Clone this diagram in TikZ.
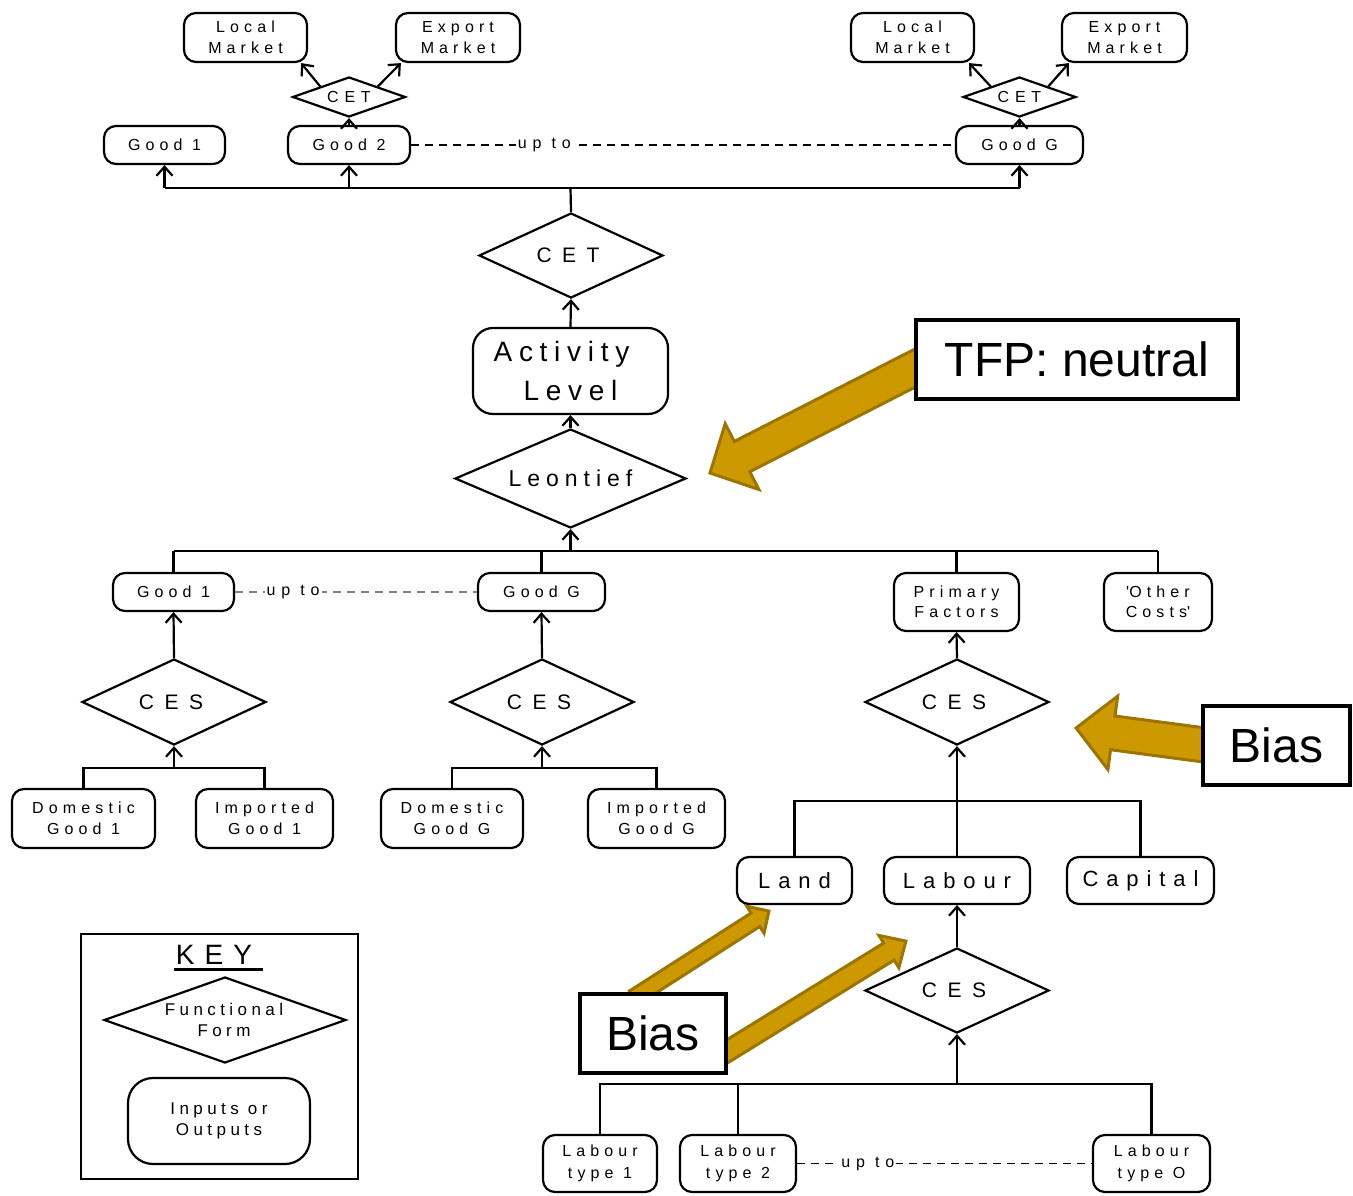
\documentclass[tikz,border=0pt]{standalone}
\usepackage{fontspec}
\setmainfont{Liberation Sans}
\newfontfamily\spfont{Liberation Sans}[LetterSpace=36]
\newfontfamily\smfont{Liberation Sans}[LetterSpace=32]
\newfontfamily\wdfont{Liberation Sans}[LetterSpace=50]
\newfontfamily\ltfont{Liberation Sans}[LetterSpace=26]
\newfontfamily\actfont{Liberation Sans}[LetterSpace=24]
\usetikzlibrary{shapes.geometric,arrows.meta,calc}
\pgfdeclarelayer{bg}
\pgfsetlayers{bg,main}
\definecolor{gold}{RGB}{204,153,0}
\definecolor{goldline}{RGB}{155,117,0}
\newcommand\fatarrow[5]{%
  \coordinate (fatH) at ($(#2)!#5!(#1)$);
  \filldraw[bigarrow] ($(#1)!#3!90:(#2)$) -- ($(fatH)!#3!-90:(#1)$) -- ($(fatH)!#4!-90:(#1)$) -- (#2) -- ($(fatH)!#4!90:(#1)$) -- ($(fatH)!#3!90:(#1)$) -- ($(#1)!#3!-90:(#2)$) -- cycle;
}
\begin{document}
\begin{tikzpicture}[x=1pt,y=-1pt,
  box/.style={draw, line width=2.2pt, rounded corners=12pt, fill=white, inner sep=0pt, align=center, font=\smfont\fontsize{16}{20.5}\selectfont},
  diam/.style={draw, shape=diamond, line width=2.2pt, inner sep=0pt, fill=white},
  dtext/.style={inner sep=0pt, align=center, font=\wdfont\fontsize{21}{25}\selectfont},
  conn/.style={line width=2.2pt},
  arr/.style={line width=2.2pt, -{Straight Barb[length=9pt,width=16pt,line width=2.2pt]}},
  dashline/.style={line width=1.2pt, dash pattern=on 8pt off 6pt},
  upto/.style={fill=white, inner sep=2pt, font=\spfont\fontsize{16}{18}\selectfont},
  callout/.style={draw, line width=4.5pt, fill=white, inner sep=0pt, font=\fontsize{48}{58}\selectfont},
  bigarrow/.style={fill=gold, draw=goldline, line width=3pt, line join=miter}
]
\useasboundingbox (0,0) rectangle (1353,1196);

% ---------- top ----------
\node[box,minimum width=123pt,minimum height=49pt] (locL) at (245.5,37.5) {Local\\Market};
\node[box,minimum width=124pt,minimum height=49pt] (expL) at (458,37.5) {Export\\Market};
\node[box,minimum width=123pt,minimum height=49pt] (locR) at (912.5,37.5) {Local\\Market};
\node[box,minimum width=125pt,minimum height=49pt] (expR) at (1124.5,37.5) {Export\\Market};
\node[diam,minimum width=113pt,minimum height=40pt] (cetSL) at (349,97) {};
\node[dtext,font=\spfont\fontsize{16}{18}\selectfont] (cetSLt) at (cetSL) {CET};
\node[diam,minimum width=113pt,minimum height=40pt] (cetSR) at (1019.5,97) {};
\node[dtext,font=\spfont\fontsize{16}{18}\selectfont] (cetSRt) at (cetSR) {CET};
\node[box,minimum width=121pt,minimum height=38pt] (good1T) at (164.5,145) {Good 1};
\node[box,minimum width=122pt,minimum height=38pt] (good2T) at (349,145) {Good 2};
\node[box,minimum width=127pt,minimum height=38pt] (goodGT) at (1019.5,145) {Good G};
\node[diam,minimum width=184pt,minimum height=85pt] (cetBig) at (571,255.5) {};
\node[dtext] (cetBigt) at ([xshift=-3pt]cetBig.center) {CET};
\node[box,minimum width=195pt,minimum height=86pt,rounded corners=20pt,font=\actfont\fontsize{28}{39}\selectfont] (activity) at (570.5,371) {Activity\hspace*{18pt}\\Level};
\node[diam,minimum width=231pt,minimum height=99pt] (leontief) at (570.5,478.5) {};
\node[dtext,font=\ltfont\fontsize{23}{27}\selectfont] (leontieft) at (leontief) {Leontief};

% ---------- middle ----------
\node[box,minimum width=121pt,minimum height=38pt] (good1M) at (173.5,592) {Good 1};
\node[box,minimum width=127pt,minimum height=38pt] (goodGM) at (541.5,592) {Good G};
\node[box,minimum width=125pt,minimum height=58pt] (primary) at (956.5,602) {Primary\\Factors};
\node[box,minimum width=108pt,minimum height=58pt] (other) at (1158,602) {\textquotesingle Other\\Costs\textquotesingle};
\node[diam,minimum width=184pt,minimum height=86pt] (cesA) at (174,702) {};
\node[dtext] (cesAt) at ([xshift=-3pt]cesA.center) {CES};
\node[diam,minimum width=184pt,minimum height=86pt] (cesB) at (542,702) {};
\node[dtext] (cesBt) at ([xshift=-3pt]cesB.center) {CES};
\node[diam,minimum width=184pt,minimum height=86pt] (cesP) at (957,702) {};
\node[dtext] (cesPt) at ([xshift=-3pt]cesP.center) {CES};
\node[box,minimum width=143pt,minimum height=59pt] (dom1) at (83.5,818.5) {Domestic\\Good 1};
\node[box,minimum width=137pt,minimum height=59pt] (imp1) at (264.5,818.5) {Imported\\Good 1};
\node[box,minimum width=142pt,minimum height=59pt] (domG) at (452,818.5) {Domestic\\Good G};
\node[box,minimum width=137pt,minimum height=59pt] (impG) at (656.5,818.5) {Imported\\Good G};
\node[box,minimum width=115pt,minimum height=47pt,font=\spfont\fontsize{22}{26}\selectfont] (land) at (794.5,880.5) {Land};
\node[box,minimum width=146pt,minimum height=47pt,font=\spfont\fontsize{22}{26}\selectfont] (labour) at (957,880.5) {Labour};
\node[box,minimum width=147pt,minimum height=47pt,font=\spfont\fontsize{22}{26}\selectfont] (capital) at (1140.5,880.5) {Capital};
\node[diam,minimum width=184pt,minimum height=85pt] (cesL) at (957,990.5) {};
\node[dtext] (cesLt) at ([xshift=-3pt]cesL.center) {CES};
\node[box,minimum width=114pt,minimum height=57pt,font=\smfont\fontsize{16}{21.5}\selectfont] (lt1) at (600,1163.5) {Labour\\type 1};
\node[box,minimum width=116pt,minimum height=57pt,font=\smfont\fontsize{16}{21.5}\selectfont] (lt2) at (738,1163.5) {Labour\\type 2};
\node[box,minimum width=117pt,minimum height=57pt,font=\smfont\fontsize{16}{21.5}\selectfont] (ltO) at (1151.5,1163.5) {Labour\\type O};

% ---------- key ----------
\node[draw,line width=2.2pt,minimum width=277pt,minimum height=245pt,inner sep=0pt] (keybox) at (219.5,1056.5) {};
\node[inner sep=0pt,font=\spfont\fontsize{28}{32}\selectfont] (keyT) at (214,955) {KEY};
\draw[line width=2.5pt] ($(keyT.base west)+(-2,5)$) -- ($(keyT.base east)+(11,5)$);
\node[diam,minimum width=242pt,minimum height=86pt] (ffT) at (225,1020) {};
\node[dtext,font=\ltfont\fontsize{17}{21}\selectfont] (ffTt) at ([xshift=-1pt]ffT.center) {Functional\\Form};
\node[box,minimum width=182pt,minimum height=86pt,rounded corners=25pt,font=\ltfont\fontsize{17}{21}\selectfont] (ioT) at (219,1121) {Inputs or\\Outputs};

% ---------- callouts ----------
\node[callout,minimum width=322pt,minimum height=79pt] (tfp) at (1077,359.5) {TFP: neutral};
\node[callout,minimum width=147pt,minimum height=79pt] (biasR) at (1276.5,745.5) {Bias};
\node[callout,minimum width=146pt,minimum height=79pt] (biasL) at (653,1033.5) {Bias};

% ---------- connectors: top ----------
\coordinate (busT) at (570.5,188);
\draw[conn] (cetBig.north) -- (busT);
\draw[conn] (busT -| good1T) -- (busT -| goodGT);
\draw[arr] (busT -| good1T) -- (good1T.south);
\draw[arr] (busT -| good2T) -- (good2T.south);
\draw[arr] (busT -| goodGT) -- (goodGT.south);
\draw[arr] (good2T.north) -- (cetSL.south);
\draw[arr] (goodGT.north) -- (cetSR.south);
\draw[arr] (cetSL.north west) -- ($(locL.south east)+(-7,0)$);
\draw[arr] (cetSL.north east) -- ($(expL.south west)+(6,0)$);
\draw[arr] (cetSR.north west) -- ($(locR.south east)+(-6,0)$);
\draw[arr] (cetSR.north east) -- ($(expR.south west)+(8,0)$);
\draw[dashline] (good2T.east) -- node[upto,pos=0.245] (upA) {up to} (goodGT.west);

% ---------- connectors: middle ----------
\draw[arr] (activity.north) -- (cetBig.south);
\draw[arr] (leontief.north) -- (activity.south);
\coordinate (busM) at (570.5,551);
\draw[arr] (busM) -- (leontief.south);
\draw[conn] (busM -| good1M) -- (busM -| other);
\draw[conn] (busM -| good1M) -- (good1M.north);
\draw[conn] (busM -| goodGM) -- (goodGM.north);
\draw[conn] (busM -| primary) -- (primary.north);
\draw[conn] (busM -| other) -- (other.north);
\draw[dashline,gray] (good1M.east) -- node[upto,pos=0.24,text=black] (upB) {up to} (goodGM.west);
\draw[arr] (cesA.north) -- (good1M.south);
\draw[arr] (cesB.north) -- (goodGM.south);
\draw[arr] (cesP.north) -- (primary.south);
\coordinate (busA) at (174,768);
\coordinate (busB) at (542,768);
\draw[arr] (busA) -- (cesA.south);
\draw[arr] (busB) -- (cesB.south);
\draw[conn] (dom1.north) -- (dom1.north |- busA) -- (imp1.north |- busA) -- (imp1.north);
\draw[conn] (domG.north) -- (domG.north |- busB) -- (impG.north |- busB) -- (impG.north);

% ---------- connectors: factors ----------
\coordinate (busR) at (957,801);
\draw[arr] (labour.north) -- (cesP.south);
\draw[conn] (land.north) -- (land.north |- busR) -- (capital.north |- busR) -- (capital.north);
\draw[arr] (cesL.north) -- (labour.south);
\coordinate (busL) at (957,1084);
\draw[arr] (busL) -- (cesL.south);
\draw[conn] (lt1.north) -- (lt1.north |- busL) -- (ltO.north |- busL) -- (ltO.north);
\draw[conn] (lt2.north) -- (lt2.north |- busL);
\draw[dashline] (lt2.east) -- node[upto,pos=0.24] (upC) {up to} (ltO.west);

% ---------- gold arrows ----------
\begin{pgfonlayer}{bg}
\coordinate (tfpTail) at ($(tfp.west)+(18,0)$);
\coordinate (tfpTip) at (710,473);
\fatarrow{tfpTail}{tfpTip}{17pt}{37pt}{36pt}
\coordinate (biasRTail) at ($(biasR.west)+(15,1)$);
\coordinate (biasRTip) at ($(cesP.east)+(26,26)$);
\fatarrow{biasRTail}{biasRTip}{17pt}{37pt}{37pt}
\coordinate (landTail) at ($(biasL.north west)+(56,6)$);
\coordinate (landTip) at ($(land.south west)+(33,6)$);
\fatarrow{landTail}{landTip}{8pt}{16pt}{16pt}
\coordinate (labTail) at ($(biasL.east)+(-11,24)$);
\coordinate (labTip) at ($(labour.south west)+(23,36)$);
\fatarrow{labTail}{labTip}{10pt}{19pt}{20pt}
\end{pgfonlayer}
\end{tikzpicture}
\end{document}
